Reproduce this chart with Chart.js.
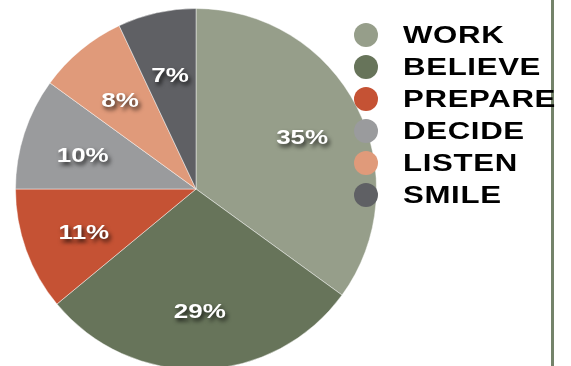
<!DOCTYPE html>
<html>
<head>
<meta charset="utf-8">
<script src="https://cdn.jsdelivr.net/npm/chart.js@4.4.0/dist/chart.umd.min.js"></script>
<style>
  html, body { margin: 0; padding: 0; background: #ffffff; overflow: hidden; }
  #wrap { position: relative; width: 571px; height: 366px; overflow: hidden; }
  #grafico { position: absolute; left: 0; top: 0; }
  #linha { position: absolute; left: 551px; top: 0; width: 3px; height: 366px; background: #74836a; }
  #legenda { position: absolute; left: 0; top: 0; }
  .item { position: absolute; left: 354px; height: 24px; }
  .bola { position: absolute; left: 0; top: 0; width: 24px; height: 24px; border-radius: 50%; }
  .texto {
    position: absolute; left: 49px; top: -2px; white-space: nowrap;
    font: bold 24px "Liberation Sans", Arial, sans-serif; line-height: 28px; color: #000;
    letter-spacing: 0.5px;
    transform: scaleX(1.3); transform-origin: left center;
  }
</style>
</head>
<body>
<div id="wrap">
  <canvas id="grafico" width="571" height="380"></canvas>
  <div id="linha"></div>
  <div id="legenda"></div>
</div>
<script>
// === Dados do gráfico ===
const categorias = ["WORK", "BELIEVE", "PREPARE", "DECIDE", "LISTEN", "SMILE"];
const valores = [35, 29, 11, 10, 8, 7];
const rotulos = ["35%", "29%", "11%", "10%", "8%", "7%"];
const cores = ["#969e8a", "#67745a", "#c55234", "#9a9b9d", "#e09a7a", "#5f6064"];

// === Rótulos percentuais dentro das fatias ===
const rotulosPlugin = {
    id: "rotulosFatias",
    afterDatasetsDraw(chart) {
        const ctx = chart.ctx;
        const meta = chart.getDatasetMeta(0);
        meta.data.forEach((arco, i) => {
            const p = arco.getProps(["x", "y", "startAngle", "endAngle", "outerRadius"], true);
            const meio = (p.startAngle + p.endAngle) / 2;
            const r = p.outerRadius * 0.66;
            const x = p.x + Math.cos(meio) * r;
            const y = p.y + Math.sin(meio) * r + 4;
            ctx.save();
            ctx.translate(x, y);
            ctx.scale(1.3, 1);
            ctx.font = "bold 20px 'Liberation Sans', Arial, sans-serif";
            ctx.textAlign = "center";
            ctx.textBaseline = "middle";
            ctx.shadowColor = "rgba(0,0,0,0.75)";
            ctx.shadowOffsetX = 2;
            ctx.shadowOffsetY = 3;
            ctx.shadowBlur = 4;
            ctx.fillStyle = "#ffffff";
            ctx.fillText(rotulos[i], 0, 0);
            ctx.restore();
        });
    }
};

const chartPizza = new Chart(document.getElementById("grafico"), {
    type: "pie",
    data: {
        labels: categorias,
        datasets: [{
            data: valores,
            backgroundColor: cores,
            borderColor: "rgba(255,255,255,0.45)",
            borderWidth: 1
        }]
    },
    options: {
        responsive: false,
        animation: false,
        layout: { padding: { left: 15, right: 194, top: 8, bottom: 10 } },
        plugins: {
            legend: { display: false },
            tooltip: { enabled: false }
        }
    },
    plugins: [rotulosPlugin]
});

// === Legenda em HTML ===
const legenda = document.getElementById("legenda");
categorias.forEach((nome, i) => {
    const item = document.createElement("div");
    item.className = "item";
    item.style.top = (23 + 32 * i) + "px";
    item.innerHTML = '<div class="bola" style="background:' + cores[i] + '"></div><span class="texto">' + nome + '</span>';
    legenda.appendChild(item);
});
</script>
</body>
</html>
